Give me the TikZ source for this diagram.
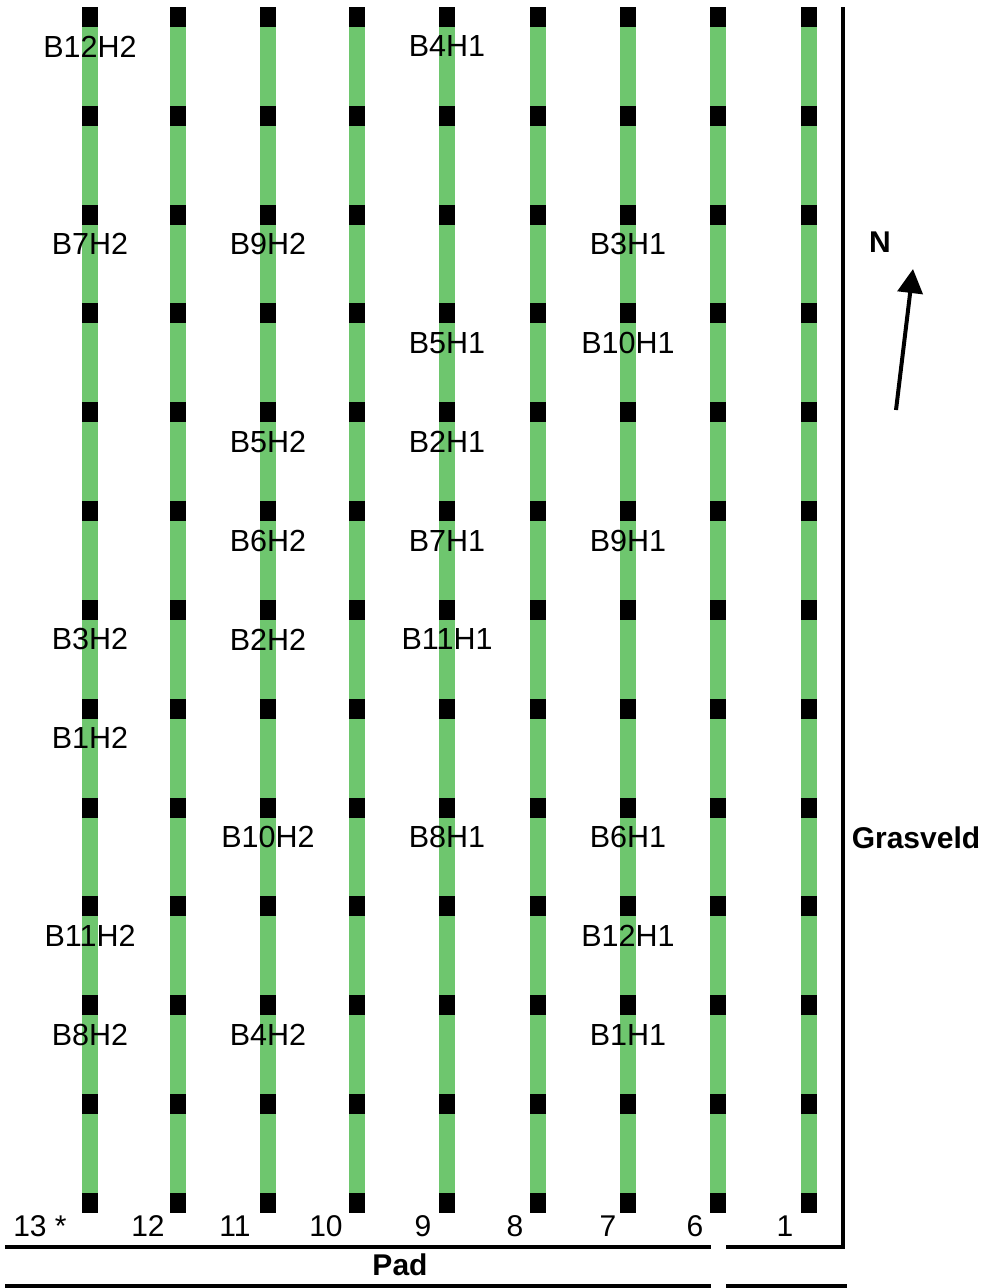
\documentclass[tikz,border=0pt]{standalone}
\usepackage{fontspec}
\setmainfont{Liberation Sans}
\usetikzlibrary{arrows.meta}
\definecolor{stripegreen}{RGB}{110,198,110}
\pgfdeclarelayer{bg}
\pgfsetlayers{bg,main}
\begin{document}
\begin{tikzpicture}[x=1pt,y=-1pt,
  sq/.style={fill=black,minimum width=16pt,minimum height=20pt,inner sep=0pt,outer sep=0pt},
  stripe/.style={draw=stripegreen,line width=16pt},
  lbl/.style={font=\fontsize{30.5}{36}\selectfont,inner sep=0pt},
  num/.style={font=\fontsize{30}{36}\selectfont,inner sep=0pt},
  boldlbl/.style={font=\fontsize{30}{36}\selectfont\bfseries,inner sep=0pt},
  rule/.style={line width=4pt},
  northarrow/.style={line width=4pt,-{Triangle[width=25pt,length=24pt]}}]
\begin{pgfonlayer}{bg}
\fill[white] (0,0) rectangle (993,1288);
\end{pgfonlayer}
\useasboundingbox (0,0) rectangle (993,1288);
% columns of plots
\foreach \c/\x in {13/90,12/178,11/268,10/357,9/447,8/538,7/628,6/718,1/809}{
  \foreach \r in {0,...,12}{
    \node[sq] (s\c-\r) at (\x,{17+\r*98.83}) {};
  }
  \begin{pgfonlayer}{bg}
  \draw[stripe] (s\c-0.north) -- (s\c-12.south);
  \end{pgfonlayer}
}
% plot labels
\foreach \t/\c/\r in {B12H2/13/0,B4H1/9/0,B7H2/13/2,B9H2/11/2,B3H1/7/2,
  B5H1/9/3,B10H1/7/3,B5H2/11/4,B2H1/9/4,B6H2/11/5,B7H1/9/5,B9H1/7/5,
  B3H2/13/6,B2H2/11/6,B11H1/9/6,B1H2/13/7,B10H2/11/8,B8H1/9/8,B6H1/7/8,
  B11H2/13/9,B12H1/7/9,B8H2/13/10,B4H2/11/10,B1H1/7/10}{
  \node[lbl,yshift=-29.5pt] (L\t) at (s\c-\r) {\t};
}
% row numbers
\foreach \t/\n/\x in {13 */n13/40,12/n12/148,11/n11/235,10/n10/326,9/n9/423,8/n8/515,7/n7/608,6/n6/695,1/n1/785}{
  \node[num] (\n) at (\x,1226) {\t};
}
% borders
\coordinate (bl1) at (5,1247);
\coordinate (br1) at (711,1247);
\coordinate (bl2) at (726,1247);
\coordinate (corner) at (843,1247);
\coordinate (top) at (843,7);
\draw[rule] (bl1) -- (br1);
\draw[rule] (bl2) -- (corner) -- (top);
\coordinate (cl1) at (5,1286);
\coordinate (cr1) at (711,1286);
\coordinate (cl2) at (726,1286);
\coordinate (cr2) at (847,1286);
\draw[rule] (cl1) -- (cr1);
\draw[rule] (cl2) -- (cr2);
% texts
\node[boldlbl] (pad) at (400,1265) {Pad};
\node[boldlbl] (gras) at (916,838) {Grasveld};
\node[boldlbl] (N) at (880,242) {N};
% north arrow
\coordinate (abase) at (896,410);
\coordinate (atip) at (913,269);
\draw[northarrow] (abase) -- (atip);
\end{tikzpicture}
\end{document}
